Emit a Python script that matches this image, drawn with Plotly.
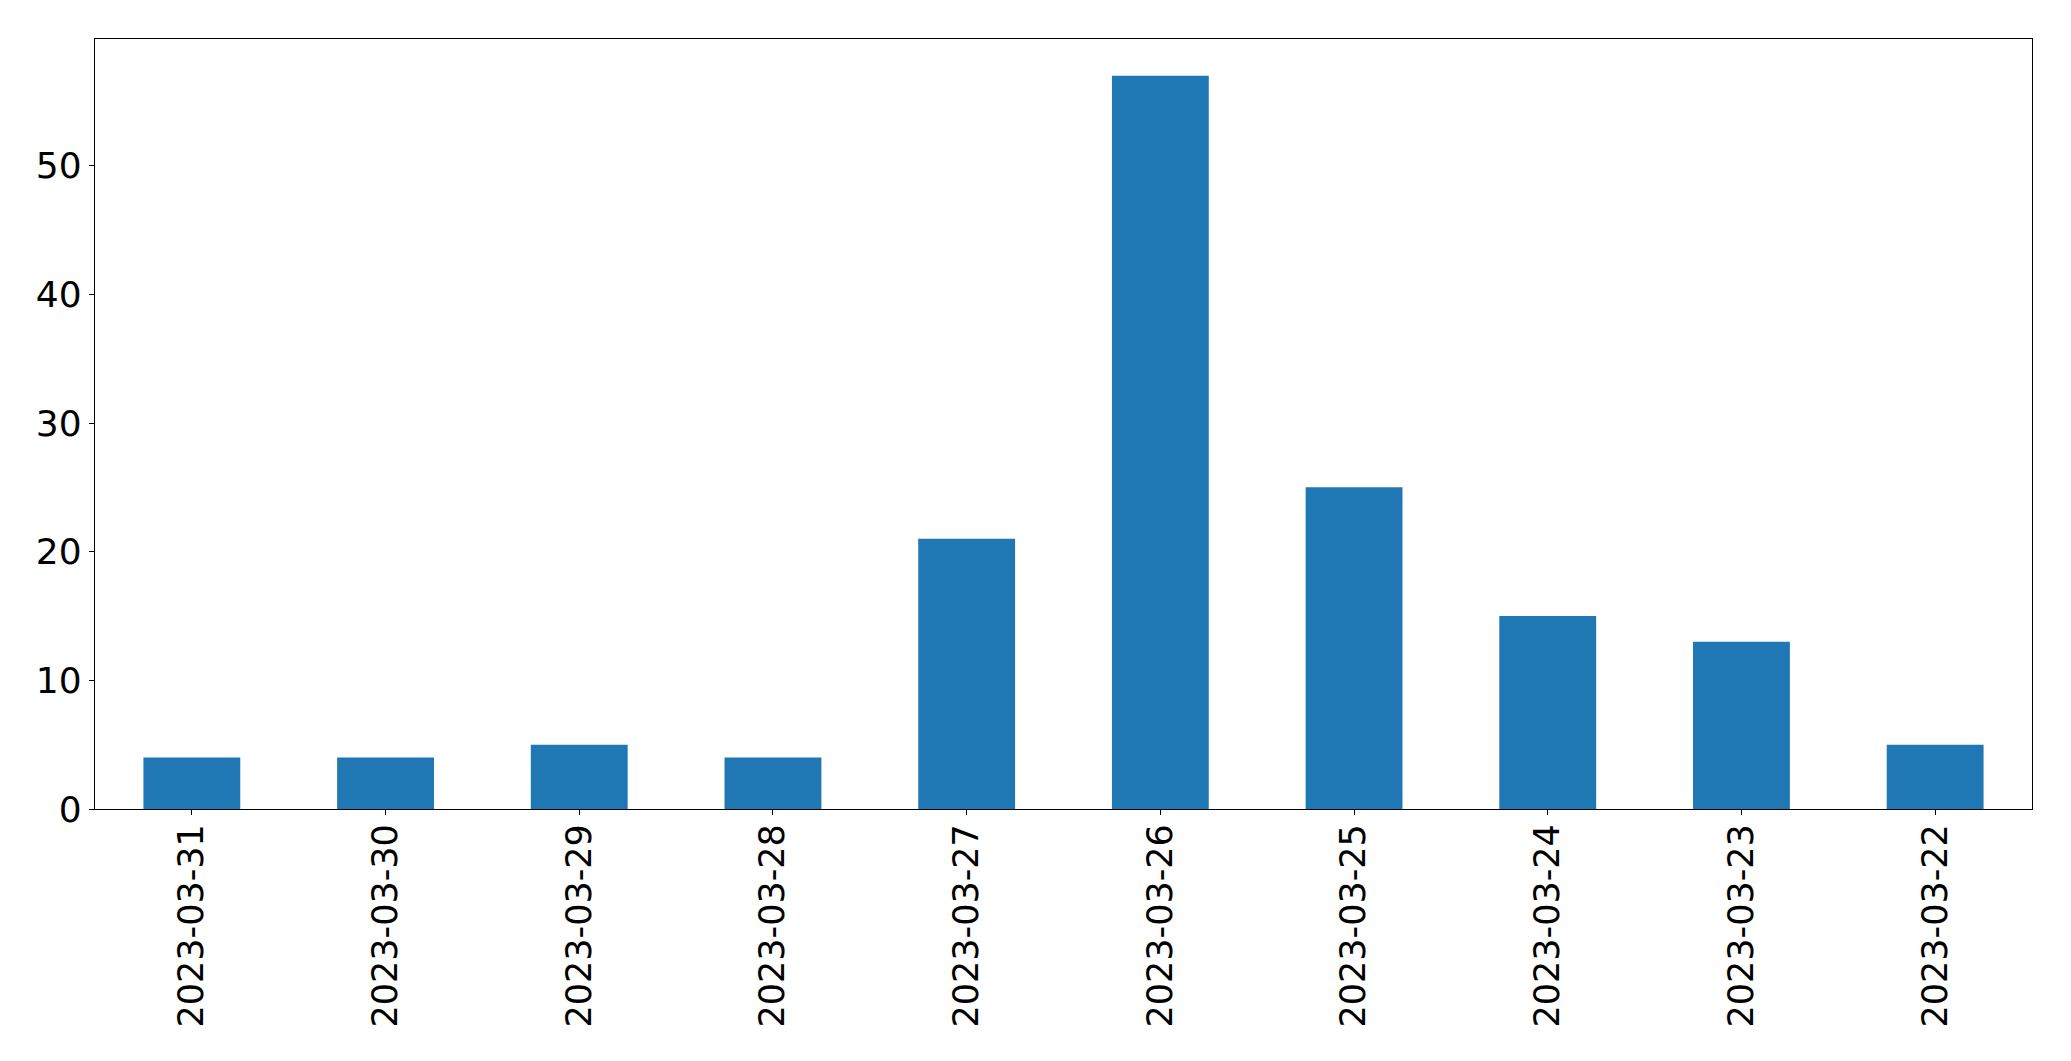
import plotly.graph_objects as go

dates = ["2023-03-31", "2023-03-30", "2023-03-29", "2023-03-28", "2023-03-27",
         "2023-03-26", "2023-03-25", "2023-03-24", "2023-03-23", "2023-03-22"]
counts = [4, 4, 5, 4, 21, 57, 25, 15, 13, 5]
y_ticks = [0, 10, 20, 30, 40, 50]

fig = go.Figure(go.Bar(x=dates, y=counts, marker=dict(color="#1f77b4", line=dict(width=0)), width=0.5))

fig.update_layout(
    width=2071, height=1061,
    margin=dict(l=95, r=39, t=39, b=252),
    plot_bgcolor="white", paper_bgcolor="white",
    font=dict(family="DejaVu Sans", size=35, color="black"),
    showlegend=False,
)
fig.update_xaxes(
    type="category", range=[-0.5, 9.5], tickangle=-90,
    showline=True, mirror=True, linecolor="black", linewidth=1.3,
    ticks="outside", ticklen=5, tickwidth=1.3, tickcolor="black",
    showgrid=False, zeroline=False, ticklabelstandoff=-5,
)
fig.update_yaxes(
    range=[0, 59.85], tickvals=y_ticks, tickfont=dict(size=36),
    showline=True, mirror=True, linecolor="black", linewidth=1.3,
    ticks="outside", ticklen=5, tickwidth=1.3, tickcolor="black",
    showgrid=False, zeroline=False,
)

fig.write_html("out.html")
